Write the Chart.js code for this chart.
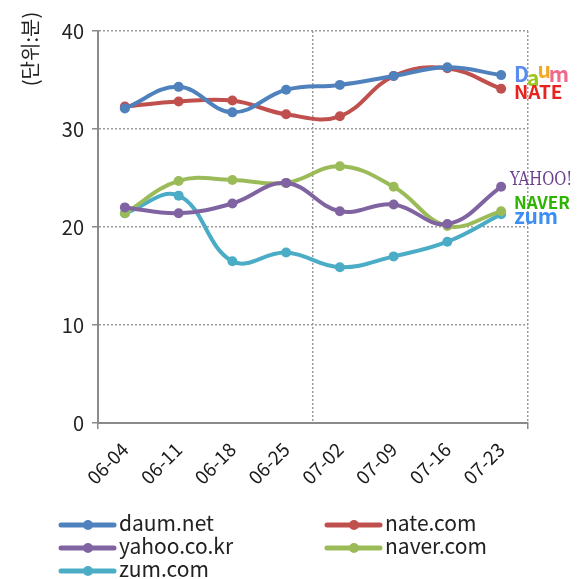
<!DOCTYPE html>
<html>

<head>
    <meta charset="utf-8">
    <script src="https://cdn.jsdelivr.net/npm/chart.js"></script>
    <style>
        body { margin: 0; background: #fff; }
        #wrap { width: 577px; height: 579px; }
    </style>
</head>

<body>
    <div id="wrap">
        <canvas id="myChart" width="577" height="579"></canvas>
    </div>

    <script>
        const FONT = "'Noto Sans CJK KR', 'Open Sans', sans-serif";

        // data
        const weeks = ['06-04', '06-11', '06-18', '06-25', '07-02', '07-09', '07-16', '07-23'];
        const seriesNames = ['daum.net', 'nate.com', 'yahoo.co.kr', 'naver.com', 'zum.com'];
        const daum = [32.1, 34.3, 31.7, 34.0, 34.5, 35.4, 36.3, 35.5];
        const nate = [32.3, 32.8, 32.9, 31.5, 31.3, 35.4, 36.2, 34.1];
        const yahoo = [22.0, 21.4, 22.4, 24.5, 21.6, 22.3, 20.3, 24.1];
        const naver = [21.4, 24.7, 24.8, 24.5, 26.2, 24.1, 20.1, 21.6];
        const zum = [21.4, 23.2, 16.5, 17.4, 15.9, 17.0, 18.5, 21.3];
        const yTicks = [0, 10, 20, 30, 40];
        const yTitle = '(단위:분)';

        const colors = ['#4F81BD', '#C0504D', '#8064A2', '#9BBB59', '#4BACC6'];
        const allSeries = [daum, nate, yahoo, naver, zum];

        const gridGray = '#9a9a9a';
        const axisGray = '#8a8a8a';

        // site logos on the right, drawn as coloured text next to the last points
        const logoPlugin = {
            id: 'extras',
            afterDraw(chart) {
                const c = chart.ctx;
                const area = chart.chartArea;
                const y = chart.scales.y;

                // y-axis title
                c.save();
                c.translate(30, 49);
                c.rotate(-Math.PI / 2);
                c.font = '20px ' + FONT;
                c.fillStyle = '#222';
                c.textAlign = 'center';
                c.textBaseline = 'middle';
                c.fillText(yTitle, 0, 0);
                c.restore();

                // logos
                const lx = area.right - 14;
                c.save();
                c.textBaseline = 'middle';
                c.textAlign = 'left';

                // Daum
                let yy = y.getPixelForValue(35.6);
                c.font = 'bold 21px ' + FONT;
                const daumLetters = [['D', '#5b8cf0'], ['a', '#9cc51a'], ['u', '#f3a81c'], ['m', '#f0688a']];
                let xx = lx;
                daumLetters.forEach(([ch, col], i) => {
                    c.fillStyle = col;
                    c.fillText(ch, xx, yy + (i === 1 ? 4 : i === 2 ? -4 : 0));
                    xx += c.measureText(ch).width - 2;
                });

                // NATE
                yy = y.getPixelForValue(33.8);
                c.font = 'bold 19px ' + FONT;
                c.fillStyle = '#e8231e';
                c.fillText('NATE', lx, yy);

                // YAHOO!
                yy = y.getPixelForValue(24.8);
                c.font = '18px "DejaVu Serif", serif';
                c.fillStyle = '#6b3f8e';
                c.save();
                c.translate(lx - 4, yy);
                c.scale(0.82, 1);
                c.fillText('YAHOO!', 0, 0);
                c.restore();

                // NAVER
                yy = y.getPixelForValue(22.5);
                c.font = 'bold 17px ' + FONT;
                c.fillStyle = '#2db400';
                c.fillText('NAVER', lx, yy);

                // zum
                yy = y.getPixelForValue(21.1);
                c.font = 'bold 21px ' + FONT;
                c.fillStyle = '#3d8ef5';
                c.fillText('zum', lx, yy);
                c.restore();

                // legend: two columns, line with dot
                c.save();
                c.font = '21px ' + FONT;
                c.textBaseline = 'middle';
                c.textAlign = 'left';
                seriesNames.forEach((name, i) => {
                    const col = i % 2;
                    const row = Math.floor(i / 2);
                    const x0 = col === 0 ? 61 : 327;
                    const y0 = 525 + row * 23;
                    c.strokeStyle = colors[i];
                    c.lineWidth = 5;
                    c.lineCap = 'round';
                    c.beginPath();
                    c.moveTo(x0, y0);
                    c.lineTo(x0 + 53, y0);
                    c.stroke();
                    c.fillStyle = colors[i];
                    c.beginPath();
                    c.arc(x0 + 27, y0, 5, 0, Math.PI * 2);
                    c.fill();
                    c.fillStyle = '#222';
                    c.fillText(name, x0 + 58, y0 - 2);
                });
                c.restore();
            }
        };

        const ctx = document.getElementById('myChart');

        const chart = new Chart(ctx, {
            type: 'line',
            data: {
                labels: weeks,
                datasets: seriesNames.map((name, i) => ({
                    label: name,
                    data: allSeries[i],
                    borderColor: colors[i],
                    backgroundColor: colors[i],
                    borderWidth: 4,
                    pointRadius: 5,
                    pointBorderWidth: 0,
                    tension: 0.4
                }))
            },
            options: {
                responsive: false,
                animation: false,
                layout: {
                    padding: { top: 31, right: 49, bottom: 0, left: 0 }
                },
                plugins: {
                    legend: { display: false },
                    tooltip: { enabled: false }
                },
                scales: {
                    x: {
                        offset: true,
                        afterFit: (s) => { s.height = 156; },
                        grid: {
                            offset: true,
                            color: (c) => (c.index === 4 || c.index === undefined) ? gridGray : 'transparent',
                            tickColor: (c) => (c.index === 0 || c.index === undefined) ? axisGray : 'transparent',
                            tickLength: 6,
                            lineWidth: 1.5
                        },
                        border: { color: axisGray, width: 2, dash: [2, 2] },
                        ticks: {
                            minRotation: 45,
                            maxRotation: 45,
                            color: '#1a1a1a',
                            padding: 9,
                            font: { family: FONT, size: 19 }
                        }
                    },
                    y: {
                        min: 0,
                        max: 40,
                        afterFit: (s) => { s.width = 98; },
                        afterBuildTicks: (s) => { s.ticks = yTicks.map(v => ({ value: v })); },
                        grid: {
                            color: (c) => c.index === 0 ? 'transparent' : gridGray,
                            tickColor: axisGray,
                            tickLength: 6,
                            lineWidth: 1.5
                        },
                        border: { color: axisGray, width: 2, dash: [2, 2] },
                        ticks: {
                            color: '#222',
                            padding: 8,
                            font: { family: FONT, size: 20 }
                        }
                    }
                }
            },
            plugins: [logoPlugin]
        });
    </script>
</body>

</html>
